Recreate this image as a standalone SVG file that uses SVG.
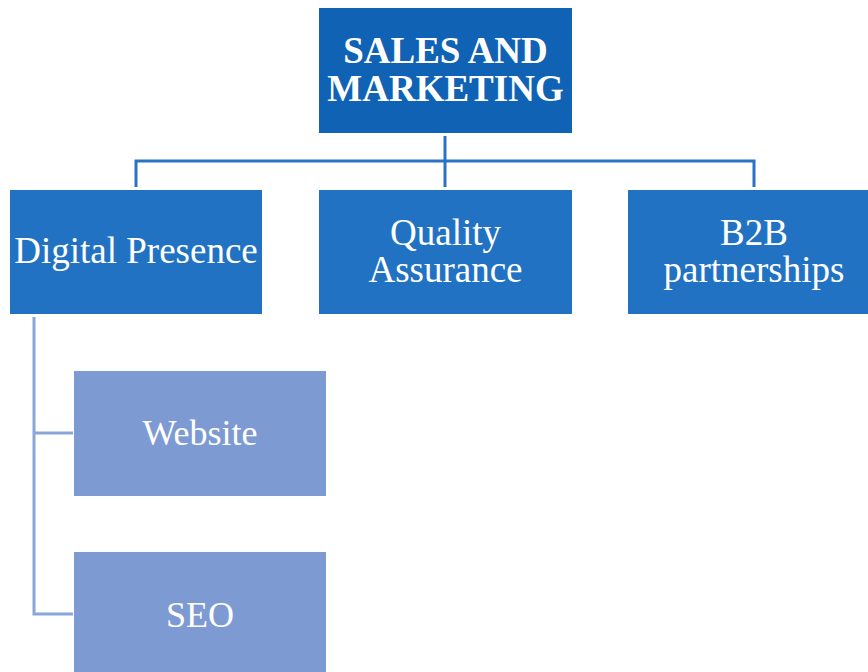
<svg xmlns="http://www.w3.org/2000/svg" width="868" height="672" viewBox="0 0 868 672">
<style>
.top{fill:#0F62B4;}
.l2{fill:#2272C4;}
.l3{fill:#7D9BD2;}
.t{font-family:"Liberation Serif","Times New Roman",serif;fill:#fff;text-anchor:middle;}
.tb{font-size:37px;font-weight:bold;}
.t2{font-size:37px;}
.t3{font-size:36px;}
.c1{stroke:#2A72C4;stroke-width:3;fill:none;}
.c2{stroke:#8AA6D8;stroke-width:3;fill:none;}
</style>
<rect width="868" height="672" fill="#fff"/>
<g id="connectors">
<path class="c1" d="M445,136 V187 M136,187 V161 H754 V187"/>
<path class="c2" d="M34,317 V614 H73 M34,433 H73"/>
</g>
<g id="sales-marketing">
<rect class="top" x="319" y="8" width="253" height="125"/>
<text class="t tb" x="445.5" y="63">SALES AND</text>
<text class="t tb" x="445.5" y="101">MARKETING</text>
</g>
<g id="digital-presence">
<rect class="l2" x="10" y="190" width="252" height="124"/>
<text class="t t2" x="136" y="263">Digital Presence</text>
</g>
<g id="quality-assurance">
<rect class="l2" x="319" y="190" width="253" height="124"/>
<text class="t t2" x="445.5" y="245">Quality</text>
<text class="t t2" x="445.5" y="282">Assurance</text>
</g>
<g id="b2b">
<rect class="l2" x="628" y="190" width="253" height="124"/>
<text class="t t2" x="754" y="245">B2B</text>
<text class="t t2" x="754" y="282">partnerships</text>
</g>
<g id="website">
<rect class="l3" x="74" y="371" width="252" height="125"/>
<text class="t t3" x="200" y="445">Website</text>
</g>
<g id="seo">
<rect class="l3" x="74" y="552" width="252" height="125"/>
<text class="t t3" x="200" y="627">SEO</text>
</g>
</svg>
